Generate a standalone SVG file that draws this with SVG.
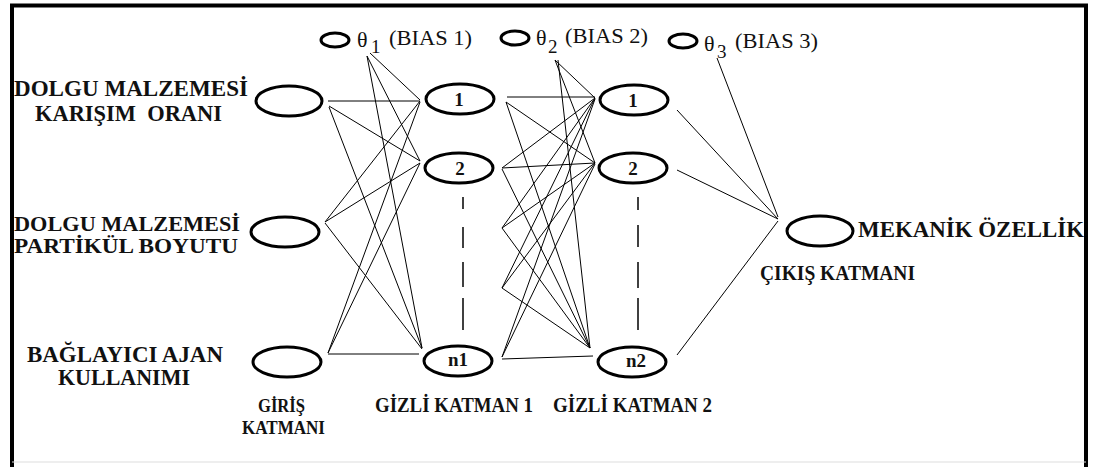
<svg xmlns="http://www.w3.org/2000/svg" width="1097" height="467" viewBox="0 0 1097 467" font-family="Liberation Serif, Times New Roman, serif">
<style>
.node{fill:none;stroke:#000;stroke-width:3}
.bias{fill:none;stroke:#000;stroke-width:3}
.c line{stroke:#000;stroke-width:1}
.lbl{font-weight:bold;fill:#111}
.nl{font-weight:bold;fill:#111;font-size:19px;text-anchor:middle}
.bt{fill:#111}
.dash line{stroke:#000;stroke-width:1.5}
</style>
<rect x="0" y="0" width="1097" height="467" fill="#fff"/>
<g id="frame">
<line x1="10" y1="5.5" x2="1088" y2="5.5" stroke="#000" stroke-width="4"/>
<line x1="12" y1="4" x2="12" y2="467" stroke="#000" stroke-width="4"/>
<line x1="1086" y1="4" x2="1086" y2="467" stroke="#000" stroke-width="4"/>
<line x1="12" y1="462" x2="1086" y2="462" stroke="#ddd" stroke-width="1"/>
</g>
<g id="connectors" class="c">
<line x1="370" y1="53" x2="420" y2="100"/>
<line x1="367" y1="56" x2="420" y2="161"/>
<line x1="367" y1="56" x2="422" y2="348"/>
<line x1="328" y1="101" x2="420" y2="101"/>
<line x1="329" y1="106" x2="420" y2="161"/>
<line x1="329" y1="107" x2="422" y2="348"/>
<line x1="325" y1="222" x2="420" y2="101"/>
<line x1="325" y1="222" x2="420" y2="163"/>
<line x1="325" y1="223" x2="422" y2="349"/>
<line x1="328" y1="354" x2="419" y2="354"/>
<line x1="328" y1="353" x2="420" y2="102"/>
<line x1="328" y1="353" x2="420" y2="163"/>
<line x1="555" y1="60" x2="595" y2="98"/>
<line x1="555" y1="60" x2="595" y2="163"/>
<line x1="558" y1="60" x2="590" y2="348"/>
<line x1="507" y1="97" x2="595" y2="97"/>
<line x1="506" y1="102" x2="595" y2="163"/>
<line x1="506" y1="102" x2="590" y2="348"/>
<line x1="502" y1="168" x2="595" y2="98"/>
<line x1="502" y1="168" x2="595" y2="163"/>
<line x1="502" y1="169" x2="590" y2="348"/>
<line x1="502" y1="228" x2="595" y2="98"/>
<line x1="502" y1="228" x2="595" y2="163"/>
<line x1="502" y1="228" x2="590" y2="348"/>
<line x1="502" y1="288" x2="595" y2="98"/>
<line x1="502" y1="288" x2="595" y2="163"/>
<line x1="502" y1="288" x2="590" y2="348"/>
<line x1="502" y1="359" x2="593" y2="356"/>
<line x1="502" y1="357" x2="595" y2="99"/>
<line x1="502" y1="357" x2="595" y2="164"/>
<line x1="677" y1="110" x2="778" y2="219"/>
<line x1="717" y1="58" x2="778" y2="217"/>
<line x1="677" y1="170" x2="778" y2="219"/>
<line x1="677" y1="355" x2="778" y2="221"/>
</g>
<g class="dash">
<line x1="463" y1="197" x2="463" y2="209"/>
<line x1="463" y1="227" x2="463" y2="248"/>
<line x1="463" y1="262" x2="463" y2="287"/>
<line x1="463" y1="298" x2="463" y2="330"/>
<line x1="638" y1="197" x2="638" y2="210"/>
<line x1="638" y1="225" x2="638" y2="247"/>
<line x1="638" y1="262" x2="638" y2="288"/>
<line x1="638" y1="298" x2="638" y2="330"/>
</g>
<g id="in1"><ellipse class="node" cx="289" cy="101" rx="33" ry="15"/>
<text class="lbl" x="14" y="96" font-size="23" textLength="234" lengthAdjust="spacingAndGlyphs">DOLGU MALZEMESİ</text>
<text class="lbl" x="35" y="121" font-size="23" textLength="187" lengthAdjust="spacingAndGlyphs" xml:space="preserve">KARIŞIM  ORANI</text></g>
<g id="in2"><ellipse class="node" cx="285" cy="232" rx="34" ry="15"/>
<text class="lbl" x="14" y="231" font-size="21" textLength="226" lengthAdjust="spacingAndGlyphs">DOLGU MALZEMESİ</text>
<text class="lbl" x="14" y="253" font-size="21" textLength="224" lengthAdjust="spacingAndGlyphs">PARTİKÜL BOYUTU</text></g>
<g id="in3"><ellipse class="node" cx="287" cy="362" rx="34" ry="15"/>
<text class="lbl" x="27" y="362" font-size="23" textLength="196" lengthAdjust="spacingAndGlyphs">BAĞLAYICI AJAN</text>
<text class="lbl" x="58" y="385" font-size="23" textLength="132" lengthAdjust="spacingAndGlyphs">KULLANIMI</text></g>
<g id="inlabel">
<text class="lbl" x="258" y="412" font-size="19" textLength="47" lengthAdjust="spacingAndGlyphs">GİRİŞ</text>
<text class="lbl" x="242" y="434" font-size="19" textLength="83" lengthAdjust="spacingAndGlyphs">KATMANI</text></g>
<g id="bias1"><ellipse class="bias" cx="335" cy="40" rx="14" ry="7"/>
<text class="bt" x="357" y="47" font-size="22">θ</text>
<text class="bt" x="371" y="53" font-size="19">1</text>
<text class="bt" x="389" y="45" font-size="21" textLength="83" lengthAdjust="spacingAndGlyphs">(BIAS 1)</text></g>
<g id="bias2"><ellipse class="bias" cx="515" cy="38" rx="14" ry="7"/>
<text class="bt" x="536" y="45" font-size="22">θ</text>
<text class="bt" x="548" y="53" font-size="19">2</text>
<text class="bt" x="565" y="43" font-size="21" textLength="83" lengthAdjust="spacingAndGlyphs">(BIAS 2)</text></g>
<g id="bias3"><ellipse class="bias" cx="683" cy="41" rx="14" ry="7"/>
<text class="bt" x="704" y="51" font-size="22">θ</text>
<text class="bt" x="717" y="58" font-size="19">3</text>
<text class="bt" x="735" y="48" font-size="21" textLength="83" lengthAdjust="spacingAndGlyphs">(BIAS 3)</text></g>
<g id="h1_1"><ellipse class="node" cx="460" cy="99" rx="34" ry="15"/><text class="nl" x="459" y="106">1</text></g>
<g id="h1_2"><ellipse class="node" cx="459" cy="168" rx="34" ry="15"/><text class="nl" x="460" y="175">2</text></g>
<g id="h1_n"><ellipse class="node" cx="458" cy="361" rx="34" ry="15"/><text class="nl" x="458" y="366">n1</text></g>
<text class="lbl" x="375" y="412" font-size="20" textLength="158" lengthAdjust="spacingAndGlyphs">GİZLİ KATMAN 1</text>
<g id="h2_1"><ellipse class="node" cx="634" cy="100" rx="34" ry="15"/><text class="nl" x="633" y="107">1</text></g>
<g id="h2_2"><ellipse class="node" cx="633" cy="168" rx="34" ry="15"/><text class="nl" x="633" y="175">2</text></g>
<g id="h2_n"><ellipse class="node" cx="632" cy="362" rx="34" ry="15"/><text class="nl" x="636" y="367">n2</text></g>
<text class="lbl" x="553" y="412" font-size="20" textLength="159" lengthAdjust="spacingAndGlyphs">GİZLİ KATMAN 2</text>
<g id="out"><ellipse class="node" cx="820" cy="231" rx="33" ry="15"/>
<text class="lbl" x="858" y="237" font-size="23" textLength="226" lengthAdjust="spacingAndGlyphs">MEKANİK ÖZELLİK</text>
<text class="lbl" x="760" y="280" font-size="20" textLength="155" lengthAdjust="spacingAndGlyphs">ÇIKIŞ KATMANI</text></g>
</svg>
